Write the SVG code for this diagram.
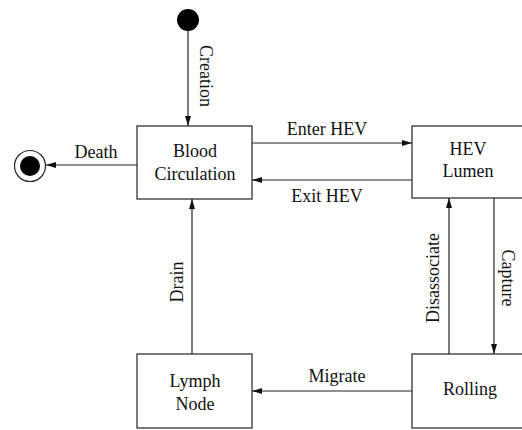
<svg xmlns="http://www.w3.org/2000/svg" width="522" height="430" viewBox="0 0 522 430">
<style>
.box{fill:#fff;stroke:#222;stroke-width:1.2}
.edge{stroke:#222;stroke-width:1.2;fill:none;marker-end:url(#arr)}
text{font-family:"Liberation Serif","Times New Roman",serif;font-size:18px;fill:#111;text-anchor:middle}
</style>
<defs>
<marker id="arr" viewBox="0 0 10 6" refX="10" refY="3" markerWidth="10" markerHeight="6" markerUnits="userSpaceOnUse" orient="auto">
<path d="M0,0 L10,3 L0,6 z" fill="#111"/>
</marker>
</defs>
<rect width="522" height="430" fill="#fff"/>
<g id="connectors">
<line class="edge" x1="188" y1="31" x2="188" y2="126"/>
<text transform="translate(200,76) rotate(90)">Creation</text>
<line class="edge" x1="137" y1="165" x2="46" y2="165"/>
<text x="96" y="158">Death</text>
<line class="edge" x1="252" y1="143" x2="412" y2="143"/>
<text x="327" y="135">Enter HEV</text>
<line class="edge" x1="412" y1="180" x2="252" y2="180"/>
<text x="327" y="202">Exit HEV</text>
<line class="edge" x1="449" y1="354" x2="449" y2="198"/>
<text transform="translate(439,278) rotate(-90)">Disassociate</text>
<line class="edge" x1="494" y1="198" x2="494" y2="354"/>
<text transform="translate(502,278) rotate(90)">Capture</text>
<line class="edge" x1="192" y1="354" x2="192" y2="199"/>
<text transform="translate(183,282) rotate(-90)">Drain</text>
<line class="edge" x1="412" y1="391" x2="252" y2="391"/>
<text x="337" y="382">Migrate</text>
</g>
<g id="initial"><circle cx="188" cy="20" r="11" fill="#000"/></g>
<g id="final"><circle cx="30" cy="166" r="15.5" fill="#fff" stroke="#222" stroke-width="1.2"/><circle cx="30" cy="166" r="10" fill="#000"/></g>
<g id="blood"><rect class="box" x="137" y="126" width="115" height="73"/><text x="195" y="157">Blood</text><text x="195" y="180">Circulation</text></g>
<g id="hev"><rect class="box" x="412" y="126" width="115" height="72"/><text x="468" y="155">HEV</text><text x="468" y="177">Lumen</text></g>
<g id="rolling"><rect class="box" x="412" y="354" width="115" height="74"/><text x="470" y="395">Rolling</text></g>
<g id="lymph"><rect class="box" x="137" y="354" width="115" height="74"/><text x="195" y="387">Lymph</text><text x="195" y="410">Node</text></g>
</svg>
